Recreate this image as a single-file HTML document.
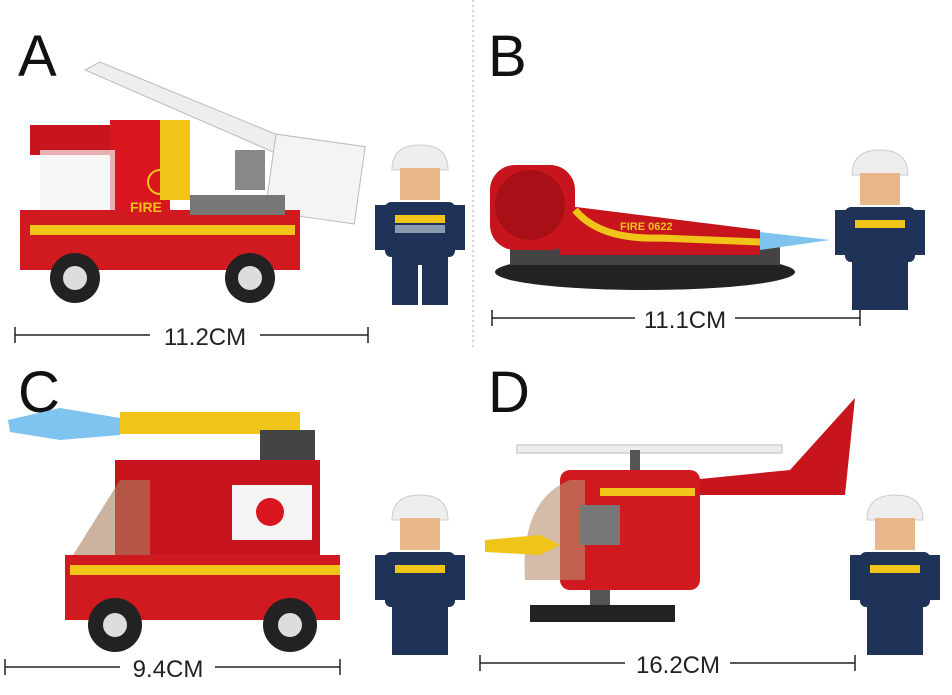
<!DOCTYPE html>
<html><head><meta charset="utf-8"><style>
html,body{margin:0;padding:0;background:#fff;}
svg{display:block;}
text{font-family:"Liberation Sans",sans-serif;}
</style></head><body>
<svg width="952" height="695" viewBox="0 0 952 695" xmlns="http://www.w3.org/2000/svg">
<rect width="952" height="695" fill="#fff"/>
<line x1="473" y1="0" x2="473" y2="350" stroke="#aaa" stroke-dasharray="2,3"/>
<!-- letters -->
<text x="18" y="76" font-size="58" fill="#111">A</text>
<text x="488" y="76" font-size="58" fill="#111">B</text>
<text x="18" y="412" font-size="58" fill="#111">C</text>
<text x="488" y="412" font-size="58" fill="#111">D</text>
<!-- dimension lines -->
<g stroke="#222" stroke-width="1.5">
<line x1="15" y1="335" x2="150" y2="335"/><line x1="260" y1="335" x2="368" y2="335"/>
<line x1="15" y1="327" x2="15" y2="343"/><line x1="368" y1="327" x2="368" y2="343"/>
<line x1="492" y1="318" x2="635" y2="318"/><line x1="735" y1="318" x2="860" y2="318"/>
<line x1="492" y1="310" x2="492" y2="326"/><line x1="860" y1="310" x2="860" y2="326"/>
<line x1="5" y1="667" x2="120" y2="667"/><line x1="215" y1="667" x2="340" y2="667"/>
<line x1="5" y1="659" x2="5" y2="675"/><line x1="340" y1="659" x2="340" y2="675"/>
<line x1="480" y1="663" x2="625" y2="663"/><line x1="730" y1="663" x2="855" y2="663"/>
<line x1="480" y1="655" x2="480" y2="671"/><line x1="855" y1="655" x2="855" y2="671"/>
</g>
<text x="205" y="345" font-size="24" fill="#222" text-anchor="middle">11.2CM</text>
<text x="685" y="328" font-size="24" fill="#222" text-anchor="middle">11.1CM</text>
<text x="168" y="677" font-size="24" fill="#222" text-anchor="middle">9.4CM</text>
<text x="678" y="673" font-size="24" fill="#222" text-anchor="middle">16.2CM</text>

<!-- A truck -->
<polygon points="85,70 100,62 290,140 280,155" fill="#eee" stroke="#bbb"/>
<rect x="270" y="140" width="90" height="78" fill="#f4f4f4" stroke="#bbb" transform="rotate(8 315 180)"/>
<rect x="235" y="150" width="30" height="40" fill="#888"/>
<rect x="30" y="125" width="140" height="30" fill="#c8141c"/>
<rect x="110" y="120" width="60" height="110" fill="#d9161e"/>
<polygon points="160,120 190,120 190,200 160,200" fill="#f0c419"/>
<rect x="40" y="150" width="75" height="65" fill="#f4f4f4" opacity="0.7"/>
<rect x="20" y="210" width="280" height="60" fill="#d11a1f"/>
<rect x="30" y="225" width="265" height="10" fill="#f0c419"/>
<rect x="190" y="195" width="95" height="20" fill="#777"/>
<text x="130" y="212" font-size="14" fill="#f0c419" font-weight="bold">FIRE</text>
<circle cx="160" cy="182" r="12" fill="none" stroke="#f0c419" stroke-width="2"/>
<circle cx="75" cy="278" r="25" fill="#222"/><circle cx="75" cy="278" r="12" fill="#ddd"/>
<circle cx="250" cy="278" r="25" fill="#222"/><circle cx="250" cy="278" r="12" fill="#ddd"/>

<!-- figure template A -->
<g>
<path d="M392,170 Q392,145 420,145 Q448,145 448,170 Z" fill="#eee" stroke="#ccc"/>
<rect x="400" y="168" width="40" height="32" fill="#e8b88a"/>
<rect x="385" y="202" width="70" height="55" rx="6" fill="#1f3358"/>
<rect x="395" y="215" width="50" height="8" fill="#f0c419"/>
<rect x="395" y="225" width="50" height="8" fill="#8a9ab0"/>
<rect x="375" y="205" width="12" height="45" fill="#1f3358"/><rect x="453" y="205" width="12" height="45" fill="#1f3358"/>
<rect x="392" y="257" width="56" height="48" fill="#1f3358"/>
<rect x="418" y="265" width="4" height="40" fill="#fff"/>
</g>

<!-- B hovercraft -->
<ellipse cx="645" cy="272" rx="150" ry="18" fill="#222"/>
<rect x="510" y="245" width="270" height="20" fill="#444"/>
<polygon points="560,205 760,230 760,255 560,255" fill="#c8141c"/>
<rect x="490" y="165" width="85" height="85" rx="25" fill="#c8141c"/>
<circle cx="530" cy="205" r="35" fill="#a90f16"/>
<path d="M575,210 Q600,240 660,238 L760,242" stroke="#f0c419" stroke-width="7" fill="none"/>
<polygon points="760,232 830,240 760,250" fill="#7fc4ee"/>
<text x="620" y="230" font-size="11" fill="#f0c419" font-weight="bold">FIRE 0622</text>
<g transform="translate(460,5)">
<path d="M392,170 Q392,145 420,145 Q448,145 448,170 Z" fill="#eee" stroke="#ccc"/>
<rect x="400" y="168" width="40" height="32" fill="#e8b88a"/>
<rect x="385" y="202" width="70" height="55" rx="6" fill="#1f3358"/>
<rect x="395" y="215" width="50" height="8" fill="#f0c419"/>
<rect x="375" y="205" width="12" height="45" fill="#1f3358"/><rect x="453" y="205" width="12" height="45" fill="#1f3358"/>
<rect x="392" y="257" width="56" height="48" fill="#1f3358"/>
</g>

<!-- C truck -->
<polygon points="8,420 60,408 120,418 120,435 60,440 10,432" fill="#7fc4ee"/>
<rect x="120" y="412" width="180" height="22" fill="#f0c419"/>
<rect x="270" y="412" width="30" height="55" fill="#f0c419"/>
<rect x="260" y="430" width="55" height="40" fill="#444"/>
<rect x="115" y="460" width="205" height="110" fill="#c8141c"/>
<polygon points="70,560 120,480 150,480 150,560" fill="#a98060" opacity="0.6"/>
<rect x="232" y="485" width="80" height="55" fill="#f4f4f4"/>
<circle cx="270" cy="512" r="14" fill="#d9161e"/>
<rect x="65" y="555" width="275" height="65" fill="#d11a1f"/>
<rect x="70" y="565" width="270" height="10" fill="#f0c419"/>
<circle cx="115" cy="625" r="27" fill="#222"/><circle cx="115" cy="625" r="12" fill="#ddd"/>
<circle cx="290" cy="625" r="27" fill="#222"/><circle cx="290" cy="625" r="12" fill="#ddd"/>
<g transform="translate(0,350)">
<path d="M392,170 Q392,145 420,145 Q448,145 448,170 Z" fill="#eee" stroke="#ccc"/>
<rect x="400" y="168" width="40" height="32" fill="#e8b88a"/>
<rect x="385" y="202" width="70" height="55" rx="6" fill="#1f3358"/>
<rect x="395" y="215" width="50" height="8" fill="#f0c419"/>
<rect x="375" y="205" width="12" height="45" fill="#1f3358"/><rect x="453" y="205" width="12" height="45" fill="#1f3358"/>
<rect x="392" y="257" width="56" height="48" fill="#1f3358"/>
</g>

<!-- D helicopter -->
<rect x="517" y="445" width="265" height="8" fill="#eee" stroke="#bbb"/>
<rect x="630" y="450" width="10" height="25" fill="#555"/>
<polygon points="690,480 790,470 855,398 845,495 690,495" fill="#c8141c"/>
<rect x="560" y="470" width="140" height="120" rx="10" fill="#d11a1f"/>
<rect x="600" y="488" width="95" height="8" fill="#f0c419"/>
<path d="M525,580 Q520,500 570,480 L585,480 L585,580 Z" fill="#b89070" opacity="0.6"/>
<rect x="580" y="505" width="40" height="40" fill="#777"/>
<polygon points="485,540 540,535 560,545 540,555 485,552" fill="#f0c419"/>
<rect x="530" y="605" width="145" height="17" fill="#222"/>
<rect x="590" y="590" width="20" height="15" fill="#555"/>
<g transform="translate(475,350)">
<path d="M392,170 Q392,145 420,145 Q448,145 448,170 Z" fill="#eee" stroke="#ccc"/>
<rect x="400" y="168" width="40" height="32" fill="#e8b88a"/>
<rect x="385" y="202" width="70" height="55" rx="6" fill="#1f3358"/>
<rect x="395" y="215" width="50" height="8" fill="#f0c419"/>
<rect x="375" y="205" width="12" height="45" fill="#1f3358"/><rect x="453" y="205" width="12" height="45" fill="#1f3358"/>
<rect x="392" y="257" width="56" height="48" fill="#1f3358"/>
</g>
</svg>
</body></html>
